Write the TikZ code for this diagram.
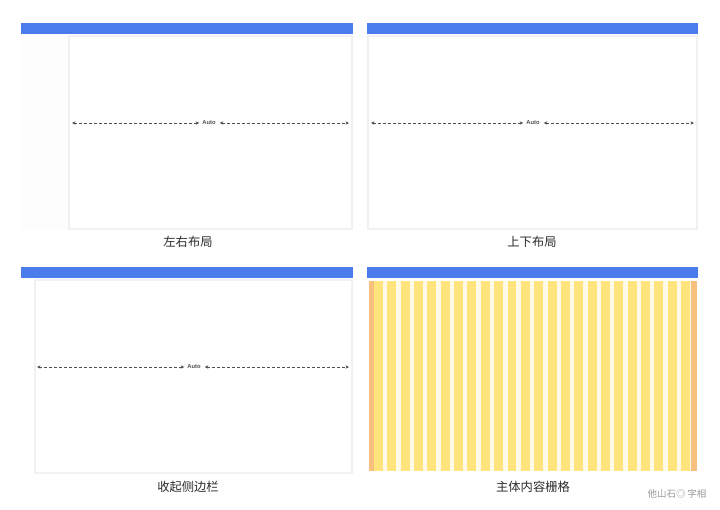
\documentclass[tikz,border=0pt]{standalone}
\usepackage{fontspec}
\setmainfont{Liberation Sans}
\newfontfamily\cjk{Noto Sans CJK SC}
\usetikzlibrary{arrows.meta}
\definecolor{barblue}{HTML}{4A7DEB}
\definecolor{boxline}{HTML}{F0F0F5}
\definecolor{sidebg}{HTML}{FDFDFE}
\definecolor{gridyellow}{HTML}{FFE47E}
\definecolor{gridpale}{HTML}{FFFAE6}
\definecolor{gridorange}{HTML}{F7C07E}
\definecolor{labeltext}{HTML}{2B2B2B}
\definecolor{marktext}{HTML}{9A9A9A}
\definecolor{arrowgray}{HTML}{505050}
\tikzset{
  topbar/.style={fill=barblue},
  pagebox/.style={draw=boxline, line width=1.8pt},
  measure/.style={draw=arrowgray, dashed, dash pattern=on 2.5pt off 2.5pt, line width=0.45pt,
    {Stealth[length=3.5pt,width=3.4pt]}-{Stealth[length=3.5pt,width=3.4pt]}},
  autolabel/.style={font=\fontsize{5.8}{6}\selectfont\bfseries, text=arrowgray, inner sep=0pt},
  caption/.style={font=\cjk\fontsize{12.3}{14}\selectfont, text=labeltext, inner sep=0pt},
  watermark/.style={font=\cjk\fontsize{9.5}{11}\selectfont, text=marktext, inner sep=0pt}
}
\begin{document}
\begin{tikzpicture}[x=1pt,y=-1pt]
\useasboundingbox[fill=white] (0,0) rectangle (720,509);

% ---------- Panel 1: left-right layout ----------
\fill[topbar] (21,23) rectangle (353,34);
\fill[sidebg] (21,35) rectangle (68,229);
\draw[pagebox] (69,36) rectangle (352,229);
\coordinate (p1a) at (72,123);
\node[autolabel] (p1auto) at (209,123) {Auto};
\coordinate (p1b) at (349,123);
\draw[measure] (p1a) -- ([xshift=-3pt]p1auto.west);
\draw[measure] ([xshift=4pt]p1auto.east) -- (p1b);
\node[caption] (cap1) at (188,242) {左右布局};

% ---------- Panel 2: top-bottom layout ----------
\fill[topbar] (367,23) rectangle (698,34);
\draw[pagebox] (368,36) rectangle (697,229);
\coordinate (p2a) at (371,123);
\node[autolabel] (p2auto) at (533,123) {Auto};
\coordinate (p2b) at (694,123);
\draw[measure] (p2a) -- ([xshift=-3pt]p2auto.west);
\draw[measure] ([xshift=4pt]p2auto.east) -- (p2b);
\node[caption] (cap2) at (532,242) {上下布局};

% ---------- Panel 3: collapsed sidebar ----------
\fill[topbar] (21,267) rectangle (353,278);
\draw[pagebox] (35,280) rectangle (352,473);
\coordinate (p3a) at (37,367);
\node[autolabel] (p3auto) at (194,367) {Auto};
\coordinate (p3b) at (349,367);
\draw[measure] (p3a) -- ([xshift=-3pt]p3auto.west);
\draw[measure] ([xshift=4pt]p3auto.east) -- (p3b);
\node[caption] (cap3) at (188,487) {收起侧边栏};

% ---------- Panel 4: content grid ----------
\fill[topbar] (367,267) rectangle (698,278);
\fill[gridpale] (369,281) rectangle (697,471);
\fill[gridorange] (369,281) rectangle (374,471);
\fill[gridorange] (691,281) rectangle (697,471);
\foreach \i in {0,...,23} {
  \pgfmathsetmacro{\xl}{374+\i*13.35}
  \fill[gridyellow] (\xl,281) rectangle (\xl+8.95,471);
}
\node[caption] (cap4) at (533,487) {主体内容栅格};

% ---------- watermark ----------
\node[watermark] (mark) at (677,494) {他山石◎\,字相};
\end{tikzpicture}
\end{document}
